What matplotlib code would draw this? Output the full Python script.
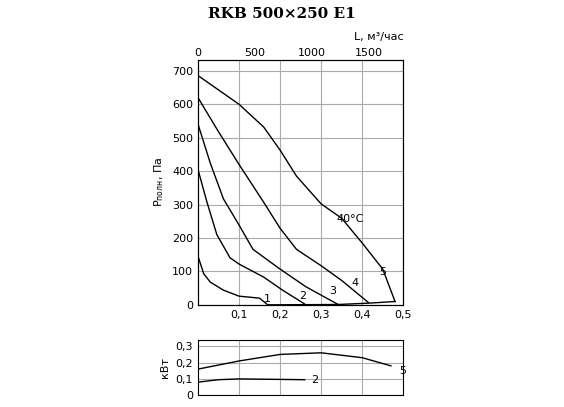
import matplotlib
matplotlib.use("Agg")
import matplotlib.pyplot as plt

c1x = [0, 0.014, 0.03, 0.062, 0.10, 0.15, 0.17]
c1y = [146, 93, 68, 44, 26, 20, 0]
c2x = [0, 0.022, 0.046, 0.078, 0.10, 0.16, 0.206, 0.263]
c2y = [405, 307, 210, 141, 122, 83, 44, 0]
c3x = [0, 0.03, 0.062, 0.10, 0.134, 0.20, 0.263, 0.34]
c3y = [541, 424, 317, 239, 166, 107, 54, 2]
c4x = [0, 0.048, 0.10, 0.16, 0.20, 0.24, 0.30, 0.35, 0.415]
c4y = [620, 522, 420, 307, 229, 166, 117, 73, 7]
c5x = [0, 0.10, 0.16, 0.20, 0.24, 0.30, 0.35, 0.40, 0.45, 0.48]
c5y = [686, 600, 532, 463, 385, 302, 259, 185, 107, 10]
basex = [0.17, 0.34, 0.415, 0.48]
basey = [0, 1, 5, 10]
p5x = [0, 0.1, 0.2, 0.3, 0.4, 0.47]
p5y = [0.16, 0.21, 0.25, 0.26, 0.23, 0.18]
p2x = [0, 0.05, 0.1, 0.26]
p2y = [0.08, 0.095, 0.10, 0.095]

fig = plt.figure(figsize=(5.64, 4.07), dpi=100)
ax = fig.add_axes([0.351, 0.251, 0.364, 0.602])
for x, y in [(c1x, c1y), (c2x, c2y), (c3x, c3y), (c4x, c4y), (c5x, c5y), (basex, basey)]:
    ax.plot(x, y, color='black', lw=1)
ax.set_xlim(0, 0.5)
ax.set_ylim(0, 733)
ax.set_xticks([0.1, 0.2, 0.3, 0.4, 0.5])
ax.set_xticklabels(['0,1', '0,2', '0,3', '0,4', '0,5'])
ax.set_yticks(range(0, 701, 100))
ax.grid(True, color='#aaaaaa', lw=0.8)
ax.tick_params(length=0, labelsize=8)
for lbl, x, y in [('1', 0.17, 17), ('2', 0.255, 26), ('3', 0.327, 41), ('4', 0.383, 65), ('5', 0.45, 98), ('40°C', 0.37, 258)]:
    ax.text(x, y, lbl, fontsize=8, ha='center', va='center')
ax.set_ylabel('P$_{\\mathrm{полн}}$, Па', fontsize=8)
ax.text(0.5, -0.22, 'м³/с', transform=ax.transAxes, fontsize=8, ha='center')
top = ax.twiny()
top.set_xlim(0, 0.5 * 3600)
top.set_xticks([0, 500, 1000, 1500])
top.tick_params(length=0, labelsize=8, pad=1)
top.text(1.0, 1.08, 'L, м³/час', transform=ax.transAxes, fontsize=8, ha='right')

bx = fig.add_axes([0.351, 0.029, 0.364, 0.135])
bx.plot(p5x, p5y, color='black', lw=1)
bx.plot(p2x, p2y, color='black', lw=1)
bx.set_xlim(0, 0.5)
bx.set_ylim(0, 0.337)
bx.set_xticks([0.1, 0.2, 0.3, 0.4])
bx.set_xticklabels([])
bx.set_yticks([0, 0.1, 0.2, 0.3])
bx.set_yticklabels(['0', '0,1', '0,2', '0,3'])
bx.grid(True, color='#aaaaaa', lw=0.8)
bx.tick_params(length=0, labelsize=8)
bx.set_ylabel('кВт', fontsize=8)
bx.text(0.275, 0.095, '2', fontsize=8, va='center')
bx.text(0.49, 0.15, '5', fontsize=8, va='center', ha='left')

fig.text(0.5, 0.955, 'RKB 500×250 E1', fontsize=11, fontweight='bold', family='DejaVu Serif', ha='center')
fig.savefig('out.png', dpi=100)
